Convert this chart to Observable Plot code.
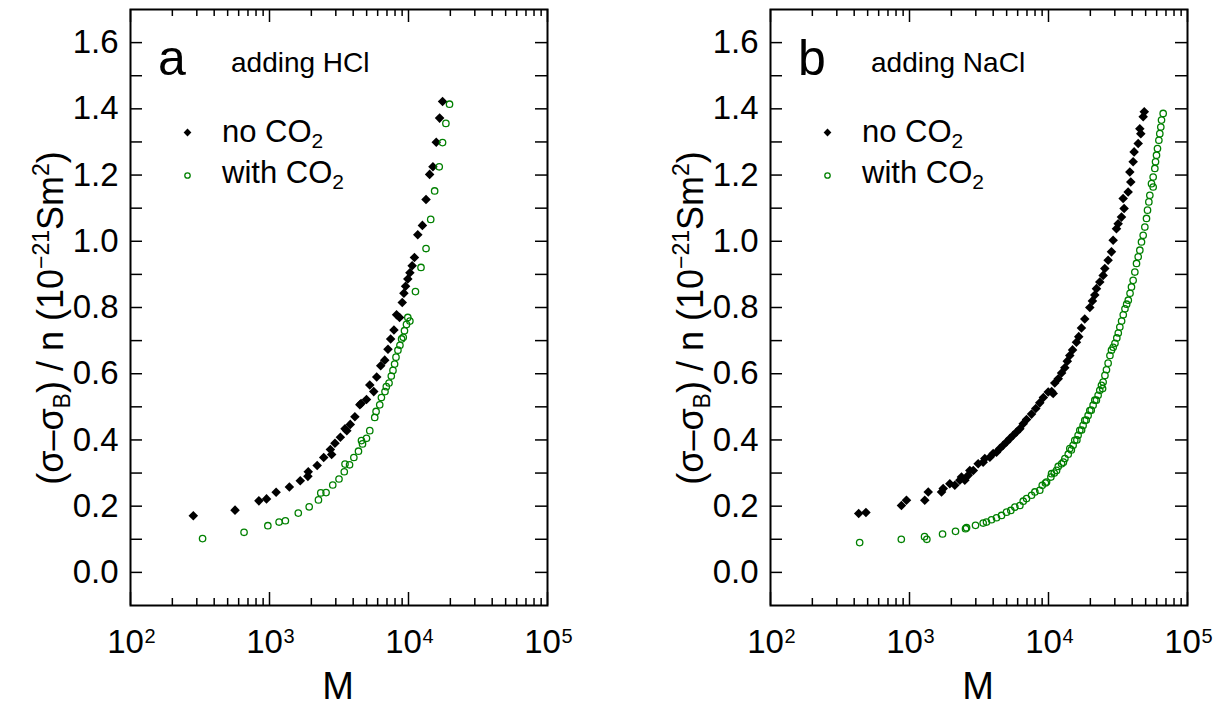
<!DOCTYPE html>
<html><head><meta charset="utf-8">
<script src="https://cdn.jsdelivr.net/npm/d3@7"></script>
<script src="https://cdn.jsdelivr.net/npm/@observablehq/plot@0.6"></script>
<style>
html,body{margin:0;padding:0;background:#fff;}
#wrap{position:relative;width:1218px;height:709px;overflow:hidden;background:#fff;}
#wrap svg{position:absolute;top:0;}
</style></head><body><div id="wrap"></div>
<script>
// ---- axis ticks / labels ----
const xMajor = [1e2, 1e3, 1e4, 1e5];
const xExp = ["2", "3", "4", "5"];
const xMinor = [200,300,400,500,600,700,800,900,2000,3000,4000,5000,6000,7000,8000,9000,20000,30000,40000,50000,60000,70000,80000,90000];
const yTicks = [0.0,0.1,0.2,0.3,0.4,0.5,0.6,0.7,0.8,0.9,1.0,1.1,1.2,1.3,1.4,1.5,1.6];
const yLabels = [0.0,0.2,0.4,0.6,0.8,1.0,1.2,1.4,1.6];

// ---- panel a: adding HCl ----
const aNoM = [283,565,839,952,1116,1390,1665,1889,1900,2203,2455,2741,2800,2958,3235,3493,3600,3811,4115,4467,4560,4986,5265,5623,5906,6310,6744,7118,7438,7858,8208,8627,9016,9268,9526,9886,10233,10625,11034,11660,12590,13370,14190,14990,15840,16740,17580];
const aNoV = [0.171,0.188,0.216,0.222,0.242,0.258,0.277,0.290,0.304,0.323,0.347,0.371,0.356,0.390,0.408,0.434,0.428,0.447,0.470,0.506,0.510,0.522,0.566,0.546,0.590,0.624,0.641,0.674,0.705,0.732,0.778,0.770,0.815,0.843,0.864,0.886,0.905,0.926,0.951,1.020,1.048,1.126,1.202,1.225,1.299,1.372,1.422];
const aCoM = [330,656,973,1172,1301,1611,1930,2250,2338,2553,2851,3162,3451,3493,3767,4045,4366,4588,4667,4986,5265,5715,5845,6209,6383,6776,6924,7244,7520,7731,7943,8128,8395,8677,8920,9166,9354,9672,9886,10233,11220,12300,13370,14450,15420,16640,17580,18580,19730];
const aCoV = [0.102,0.121,0.141,0.152,0.156,0.179,0.198,0.219,0.240,0.241,0.264,0.282,0.304,0.327,0.325,0.347,0.366,0.398,0.388,0.405,0.428,0.468,0.486,0.506,0.528,0.546,0.561,0.572,0.593,0.610,0.629,0.650,0.671,0.686,0.705,0.710,0.730,0.749,0.770,0.759,0.848,0.921,0.978,1.066,1.152,1.225,1.298,1.356,1.414];

// ---- panel b: adding NaCl ----
const bNoM = [431,486,875,951,1288,1364,1700,1748,1950,2118,
  2301,2366,2501,2643,2716,2877,3119,3388,3483,3785,
  4000,4227,4467,4722,4990,5273,5573,5889,6224,6577,
  6950,7551,8100,8655,9186,9954,10540,10810,11090,11750,
  12420,13100,13650,14230,14900,15890,16500,17260,18230,19820,
  20700,21530,22130,23380,24720,25410,26850,28380,29180,30830,
  31700,33500,34990,34440,37410,39080,38460,40640,41300,44190,
  46130,45400,47990,48870];
const bNoV = [0.178,0.181,0.202,0.218,0.218,0.243,0.243,0.253,0.268,0.263,
  0.278,0.288,0.278,0.293,0.308,0.308,0.328,0.333,0.344,0.348,
  0.359,0.363,0.374,0.384,0.394,0.404,0.414,0.424,0.434,0.449,
  0.462,0.478,0.495,0.512,0.528,0.545,0.546,0.540,0.572,0.585,
  0.602,0.618,0.638,0.655,0.672,0.695,0.712,0.738,0.765,0.800,
  0.820,0.838,0.857,0.877,0.897,0.918,0.943,0.968,1.003,1.038,
  1.053,1.073,1.099,1.129,1.149,1.179,1.209,1.240,1.270,1.295,
  1.325,1.340,1.376,1.391];
const bCoM = [438,873,1283,1333,1729,2143,2529,2573,2985,3388,
  3580,3890,4227,4592,4990,5358,5728,6224,6577,6950,
  7551,7980,8655,9016,9500,9684,10400,10520,11000,11430,
  11750,12420,12800,13120,13870,14230,14600,15040,15450,16000,
  16330,16790,17300,17740,18230,18700,19280,19820,20300,20940,
  21530,22100,22750,23380,24040,24500,24720,25470,26120,26850,
  27670,28380,29200,30070,31000,31770,32600,33570,34500,35490,
  36500,37500,38600,39530,40640,41800,42970,44190,45400,46670,
  47990,49330,50700,51560,52720,53580,55080,56620,56620,58210,
  58880,59840,60810,62230,63200,64270,65010,66830];
const bCoV = [0.090,0.100,0.108,0.100,0.116,0.124,0.132,0.135,0.142,0.149,
  0.152,0.159,0.165,0.172,0.182,0.187,0.197,0.202,0.215,0.223,
  0.233,0.243,0.248,0.263,0.270,0.273,0.288,0.298,0.300,0.308,
  0.320,0.328,0.333,0.344,0.357,0.374,0.370,0.384,0.399,0.400,
  0.414,0.429,0.430,0.444,0.459,0.460,0.474,0.489,0.490,0.505,
  0.520,0.520,0.535,0.550,0.565,0.555,0.575,0.595,0.612,0.632,
  0.655,0.671,0.680,0.692,0.708,0.723,0.741,0.759,0.778,0.796,
  0.810,0.822,0.843,0.862,0.882,0.907,0.933,0.953,0.973,0.998,
  1.018,1.043,1.069,1.094,1.119,1.139,1.174,1.164,1.194,1.220,
  1.240,1.260,1.280,1.305,1.325,1.345,1.366,1.386];

const FONT = "'Liberation Sans', Arial, Helvetica, sans-serif";
const GREEN = "#008000";

function panel(noM, noV, coM, coV, letter, title, left, width) {
  const no = noM.map((m, i) => ({M: m, v: noV[i]}));
  const co = coM.map((m, i) => ({M: m, v: coV[i]}));
  const mL = 130, mR = width - 547, mT = 9, mB = 104;
  const plotW = width - mL - mR, plotH = 709 - mT - mB;
  const tk = {stroke: "#000", strokeWidth: 1.5};
  const svg = Plot.plot({
    width, height: 709,
    marginLeft: mL, marginRight: mR, marginTop: mT, marginBottom: mB,
    style: {fontFamily: FONT, fontSize: "33px", color: "#000", background: "transparent", overflow: "visible"},
    x: {type: "log", domain: [100, 1e5], axis: null},
    y: {domain: [-0.1, 1.7], axis: null},
    marks: [
      Plot.tickX(xMinor, {x: d => d, insetTop: plotH - 7, ...tk}),
      Plot.tickX(xMinor, {x: d => d, insetBottom: plotH - 7, ...tk}),
      Plot.tickX(xMajor, {x: d => d, insetTop: plotH - 13, ...tk}),
      Plot.tickX(xMajor, {x: d => d, insetBottom: plotH - 13, ...tk}),
      Plot.tickY(yTicks, {y: d => d, insetRight: plotW - 12, ...tk}),
      Plot.tickY(yTicks, {y: d => d, insetLeft: plotW - 12, ...tk}),
      Plot.axisY(yLabels, {tickSize: 0, tickPadding: 12, tickFormat: d3.format(".1f"), label: null, fontSize: 33}),
      Plot.text(xMajor, {x: d => d, frameAnchor: "bottom", text: () => "10", dy: 47, dx: -5, lineAnchor: "bottom", fontSize: 33}),
      Plot.text(xMajor, {x: d => d, frameAnchor: "bottom", text: (d, i) => xExp[i], dy: 37, dx: 14, textAnchor: "start", lineAnchor: "bottom", fontSize: 20}),
      Plot.frame({stroke: "#000", strokeWidth: 2}),
      Plot.dot(no, {x: "M", y: "v", symbol: "diamond2", r: 4.3, fill: "#000", stroke: "none"}),
      Plot.dot(co, {x: "M", y: "v", symbol: "circle", r: 3.2, stroke: GREEN, strokeWidth: 1.3, fill: "none"}),
      Plot.dot([0], {frameAnchor: "top-left", dx: 57, dy: 123, symbol: "diamond2", r: 3.5, fill: "#000", stroke: "none"}),
      Plot.dot([0], {frameAnchor: "top-left", dx: 57, dy: 166, symbol: "circle", r: 2.7, stroke: GREEN, strokeWidth: 1.3, fill: "none"})
    ]
  });
  svg.style.left = left + "px";
  const s = d3.select(svg);
  const T = (x, y, fs) => s.append("text").attr("x", x).attr("y", y).attr("font-size", fs)
    .attr("text-anchor", "start").attr("fill", "#000").style("font-family", FONT);
  T(158, 75, 50).text(letter);
  T(231, 72, 28).text(title);
  const l1 = T(222, 142, 31); l1.append("tspan").text("no CO"); l1.append("tspan").attr("font-size", 21).attr("dy", 6).text("2");
  const l2 = T(222, 183, 31); l2.append("tspan").text("with CO"); l2.append("tspan").attr("font-size", 21).attr("dy", 6).text("2");
  T(338, 699, 38).attr("text-anchor", "middle").text("M");
  const yt = s.append("text").attr("transform", "translate(63,318) rotate(-90)").attr("text-anchor", "middle")
    .attr("font-size", 36).style("font-family", FONT).attr("fill", "#000");
  yt.append("tspan").text("(σ–σ");
  yt.append("tspan").attr("font-size", 23).attr("dy", 7).text("B");
  yt.append("tspan").attr("dy", -7).text(") / n (10");
  yt.append("tspan").attr("font-size", 23).attr("dy", -14).text("−21");
  yt.append("tspan").attr("dy", 14).text("Sm");
  yt.append("tspan").attr("font-size", 23).attr("dy", -14).text("2");
  yt.append("tspan").attr("dy", 14).text(")");
  return svg;
}

const wrap = document.getElementById("wrap");
wrap.appendChild(panel(aNoM, aNoV, aCoM, aCoV, "a", "adding HCl", 0, 600));
wrap.appendChild(panel(bNoM, bNoV, bCoM, bCoV, "b", "adding NaCl", 640, 578));
</script></body></html>
